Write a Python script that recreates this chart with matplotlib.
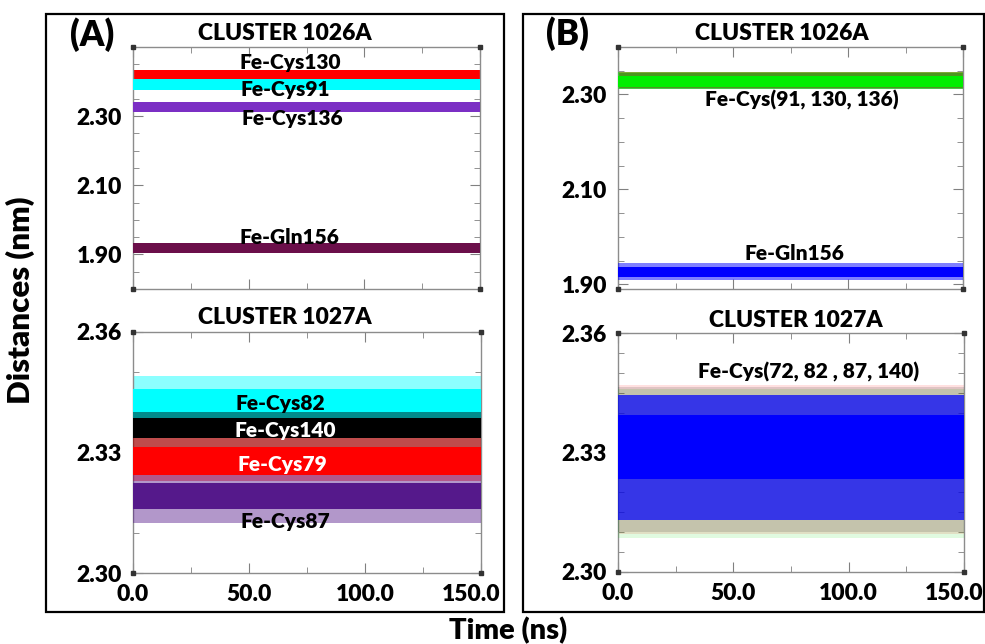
import matplotlib
matplotlib.use('Agg')
import matplotlib.pyplot as plt
from matplotlib.patches import Rectangle
from matplotlib.ticker import MultipleLocator, FixedLocator, FuncFormatter

plt.rcParams['font.family'] = ['Lato', 'DejaVu Sans']
plt.rcParams['font.weight'] = 'heavy'

# time span of the trajectories (ns)
time_ns = [0.0, 150.0]

# (A) cluster 1026A
a26_names = ['Fe-Cys130', 'Fe-Cys91', 'Fe-Cys136', 'Fe-Gln156']
a26_colors = ['#ff0000', '#00ffff', '#7b2fc4', '#6b0f4a']
a26_lo = [2.405, 2.376, 2.312, 1.905]
a26_hi = [2.434, 2.407, 2.341, 1.933]

# (A) cluster 1027A
a27_names = ['Fe-Cys82', 'Fe-Cys140', 'Fe-Cys79', 'Fe-Cys87']
a27_colors = ['#00ffff', '#000000', '#ff0000', '#55198b']
a27_spike_lo = [2.3355, 2.3310, 2.3230, 2.3125]
a27_spike_hi = [2.3490, 2.3400, 2.3335, 2.3245]
a27_lo = [2.3365, 2.3335, 2.3245, 2.3160]
a27_hi = [2.3458, 2.3385, 2.3314, 2.3225]

# (B) cluster 1026A
b26_names = ['Fe-Cys(91, 130, 136)', 'Fe-Gln156']
b26_colors = ['#00ee00', '#0000ff']
b26_spike_lo = [2.312, 1.909]
b26_spike_hi = [2.347, 1.945]
b26_lo = [2.316, 1.916]
b26_hi = [2.339, 1.937]

# (B) cluster 1027A: four overlapping traces, blue drawn last
b27_name = 'Fe-Cys(72, 82 , 87, 140)'
b27_colors = ['#ff0000', '#00dd00', '#000000', '#0000ff']
b27_spike_lo = [2.3095, 2.3085, 2.3100, 2.3130]
b27_spike_hi = [2.3470, 2.3460, 2.3465, 2.3445]
b27_lo = [2.3190, 2.3185, 2.3195, 2.3233]
b27_hi = [2.3420, 2.3415, 2.3410, 2.3395]

W, H = 985, 644
fig = plt.figure(figsize=(W/100, H/100), dpi=100)


def px_axes(l, t, r, b):
    return fig.add_axes([l/W, 1 - b/H, (r - l)/W, (b - t)/H])


def xlab(v, pos):
    # the 150.0 label is drawn separately, a bit to the left
    return '' if v >= time_ns[1] else '{:.1f}'.format(v)


def style(ax, ylim, major, minor, bottom):
    ax.set_xlim(time_ns)
    ax.set_ylim(ylim)
    ax.xaxis.set_major_locator(MultipleLocator(50))
    ax.xaxis.set_minor_locator(MultipleLocator(25))
    ax.yaxis.set_major_locator(FixedLocator(major))
    ax.yaxis.set_minor_locator(MultipleLocator(minor))
    ax.yaxis.set_major_formatter('{x:.2f}')
    ax.tick_params(which='both', direction='in', top=True, right=True,
                   color='#808080', labelsize=16.5, pad=8)
    ax.tick_params(which='major', length=7)
    ax.tick_params(which='minor', length=4)
    for s in ax.spines.values():
        s.set_color('#8c8c8c')
        s.set_linewidth(1.0)
    x0, x1 = ax.get_xlim()
    y0, y1 = ax.get_ylim()
    ax.plot([x0, x1, x0, x1], [y0, y0, y1, y1], 's', color='#333333',
            ms=3, clip_on=False, zorder=5)
    if bottom:
        ax.xaxis.set_major_formatter(FuncFormatter(xlab))
        ax.annotate('{:.1f}'.format(time_ns[1]), xy=(1, 0),
                    xycoords='axes fraction', xytext=(-7, -8),
                    textcoords='offset points', ha='center', va='top',
                    fontsize=16.5, annotation_clip=False)
    else:
        ax.set_xticklabels([])


def band(ax, lo, hi, color, alpha=1.0, z=2):
    ax.fill_between(time_ns, [lo, lo], [hi, hi], color=color, alpha=alpha,
                    lw=0, zorder=z)


# ---- (A) top
ax = px_axes(133, 47, 480, 289)
for i in range(len(a26_names)):
    band(ax, a26_lo[i], a26_hi[i], a26_colors[i], z=2 + i)
style(ax, (1.80, 2.50), [1.90, 2.10, 2.30], 0.05, False)
for name, x, y in zip(a26_names, [68, 66, 69, 67.5],
                      [2.454, 2.376, 2.292, 1.948]):
    ax.text(x, y, name, ha='center', va='center', fontsize=15, zorder=10)

# ---- (A) bottom
ax = px_axes(133, 332, 481, 573)
for i in range(len(a27_names)):
    band(ax, a27_spike_lo[i], a27_spike_hi[i], a27_colors[i], alpha=0.45,
         z=2 + 2*i)
    band(ax, a27_lo[i], a27_hi[i], a27_colors[i], z=3 + 2*i)
style(ax, (2.30, 2.36), [2.30, 2.33, 2.36], 0.01, True)
for name, x, y, c in zip(a27_names, [63.4, 65.5, 64.4, 65.5],
                         [2.3423, 2.3356, 2.3269, 2.3127],
                         ['black', 'white', 'white', 'black']):
    ax.text(x, y, name, ha='center', va='center', fontsize=15, color=c,
            zorder=12)

# ---- (B) top
ax = px_axes(618, 47, 963, 289)
band(ax, b26_spike_lo[0] + 0.001, b26_spike_hi[0], '#ff0000', alpha=0.6)
band(ax, b26_spike_lo[0], b26_spike_hi[0] - 0.002, '#000000', alpha=0.4)
for i in range(len(b26_names)):
    band(ax, b26_spike_lo[i], b26_spike_hi[i], b26_colors[i], alpha=0.5,
         z=3 + 2*i)
    band(ax, b26_lo[i], b26_hi[i], b26_colors[i], z=4 + 2*i)
style(ax, (1.89, 2.40), [1.90, 2.10, 2.30], 0.05, False)
for name, x, y in zip(b26_names, [79.9, 76.8], [2.288, 1.964]):
    ax.text(x, y, name, ha='center', va='center', fontsize=15, zorder=10)

# ---- (B) bottom
ax = px_axes(618, 333, 964, 572)
for i in range(len(b27_colors) - 1):
    band(ax, b27_spike_lo[i], b27_spike_hi[i], b27_colors[i], alpha=0.12,
         z=2 + i)
band(ax, b27_spike_lo[3], b27_spike_hi[3], b27_colors[3], alpha=0.72, z=6)
band(ax, b27_lo[3], b27_hi[3], b27_colors[3], z=11)
style(ax, (2.30, 2.36), [2.30, 2.33, 2.36], 0.005, True)
ax.text(82.8, 2.3502, b27_name, ha='center', va='center', fontsize=15,
        zorder=12)

# ---- titles, panel labels, frames
for x, y, s in [(285, 33, 'CLUSTER 1026A'), (782, 33, 'CLUSTER 1026A'),
                (285, 317, 'CLUSTER 1027A'), (796, 320, 'CLUSTER 1027A')]:
    fig.text(x/W, 1 - y/H, s, ha='center', va='center', fontsize=16.5)
fig.text(92/W, 1 - 35/H, '(A)', ha='center', va='center', fontsize=25)
fig.text(567/W, 1 - 34/H, '(B)', ha='center', va='center', fontsize=25)
fig.text(20/W, 1 - 300/H, 'Distances (nm)', rotation=90, ha='center',
         va='center', fontsize=22.5)
fig.text(508/W, 1 - 631/H, 'Time (ns)', ha='center', va='center',
         fontsize=21)
for l, t, r, b in [(46, 14, 504, 612), (523, 14, 984, 612)]:
    fig.add_artist(Rectangle((l/W, 1 - b/H), (r - l)/W, (b - t)/H,
                             transform=fig.transFigure, fill=False,
                             ec='black', lw=1.6))

fig.savefig('out.png', dpi=100)
